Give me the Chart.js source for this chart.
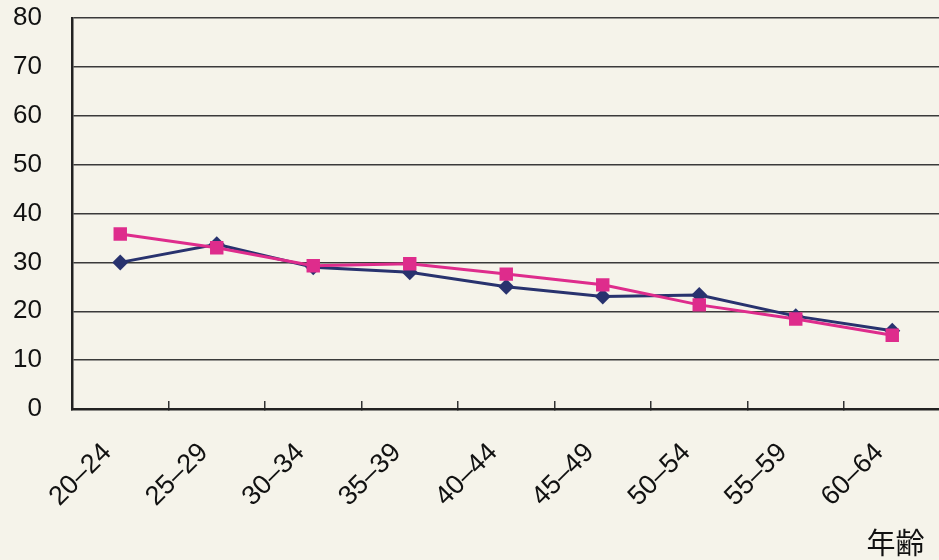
<!DOCTYPE html>
<html>
<head>
<meta charset="utf-8">
<script src="https://cdn.jsdelivr.net/npm/chart.js@4/dist/chart.umd.min.js"></script>
<style>
  html, body { margin: 0; padding: 0; overflow: hidden; background: #f5f3ea; }
  #wrap { position: relative; width: 950px; height: 560px; }
</style>
</head>
<body>
<div id="wrap"><canvas id="graph"></canvas></div>
<script>
// 年齢階級
const ageGroups = ['20–24', '25–29', '30–34', '35–39', '40–44', '45–49', '50–54', '55–59', '60–64'];
// 系列1（紺・ひし形）
const seriesNavy = [30, 33.7, 29, 28, 25, 23, 23.3, 19, 16];
// 系列2（ピンク・四角）
const seriesPink = [35.8, 33, 29.3, 29.7, 27.6, 25.4, 21.3, 18.4, 15.1];
const yTicks = [0, 10, 20, 30, 40, 50, 60, 70, 80];
const axisTitle = '年齢';

const navy = 'rgb(40, 50, 110)';
const pink = 'rgb(222, 44, 140)';

// 軸タイトル「年齢」を右下に描く
const titlePlugin = {
  id: 'ageTitle',
  afterDraw(chart) {
    const ctx = chart.ctx;
    ctx.save();
    ctx.font = '29px "Noto Sans CJK JP"';
    ctx.fillStyle = '#111';
    ctx.textAlign = 'right';
    ctx.textBaseline = 'middle';
    ctx.fillText(axisTitle, chart.chartArea.right - 16, 543);
    ctx.restore();
  },
};

const ctx = document.getElementById('graph').getContext('2d');

const chart = new Chart(ctx, {
  type: 'line',
  data: {
    labels: ageGroups,
    datasets: [
      {
        label: 'navy',
        data: seriesNavy,
        borderColor: navy,
        backgroundColor: navy,
        borderWidth: 3,
        pointStyle: 'rectRot',
        pointRadius: 8,
        pointBorderWidth: 0,
        tension: 0,
        order: 2,
      },
      {
        label: 'pink',
        data: seriesPink,
        borderColor: pink,
        backgroundColor: pink,
        borderWidth: 3,
        pointStyle: 'rect',
        pointRadius: 9.5,
        pointBorderWidth: 0,
        tension: 0,
        order: 1,
      },
    ],
  },
  options: {
    responsive: true,
    maintainAspectRatio: false,
    animation: false,
    layout: {
      padding: { top: 18, right: 5, left: 0, bottom: 0 },
    },
    plugins: {
      legend: { display: false },
      tooltip: { enabled: false },
    },
    scales: {
      x: {
        offset: true,
        grid: {
          offset: true,
          drawOnChartArea: false,
          drawTicks: true,
          tickLength: -8,
          color: '#333',
          lineWidth: 1.5,
        },
        border: { color: '#222', width: 2.5 },
        ticks: {
          color: '#111',
          font: { family: '"Liberation Sans", Arial, sans-serif', size: 27 },
          minRotation: 45,
          maxRotation: 45,
          padding: 36,
          labelOffset: -13,
          autoSkip: false,
        },
        afterFit(scale) {
          scale.height = 151;
          scale.paddingLeft = 0;
          scale.paddingRight = 0;
        },
      },
      y: {
        min: 0,
        max: 80,
        afterBuildTicks(scale) {
          scale.ticks = yTicks.map((v) => ({ value: v }));
        },
        grid: {
          drawTicks: false,
          color: '#3a3a3a',
          lineWidth: 1.5,
        },
        border: { color: '#222', width: 2.5 },
        ticks: {
          color: '#111',
          font: { family: '"Liberation Sans", Arial, sans-serif', size: 26 },
          padding: 30,
        },
        afterFit(scale) {
          scale.width = 72;
          scale.paddingTop = 0;
          scale.paddingBottom = 0;
        },
      },
    },
  },
  plugins: [titlePlugin],
});
</script>
</body>
</html>
